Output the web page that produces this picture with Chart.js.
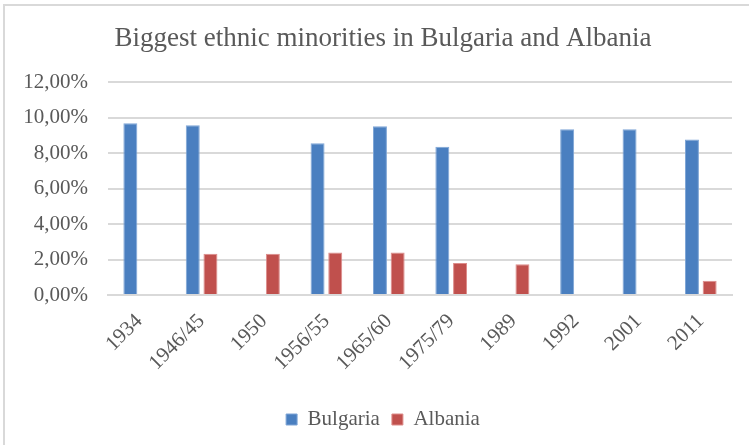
<!DOCTYPE html>
<html>
<head>
<meta charset="utf-8">
<script src="https://cdn.jsdelivr.net/npm/chart.js@4"></script>
<style>
    body { margin: 0; background: #fff; }
    #wrap { position: relative; width: 749px; height: 445px; }
    #frame { position: absolute; left: 3px; top: 4px; width: 800px; height: 500px; border-top: 2px solid #d9d9d9; border-left: 2px solid #d9d9d9; pointer-events: none; }
</style>
</head>
<body>
<div id="wrap">
    <canvas id="chartContainerMinorities" width="749" height="445"></canvas>
    <div id="frame"></div>
</div>
<script>
const years = ['1934', '1946/45', '1950', '1956/55', '1965/60', '1975/79', '1989', '1992', '2001', '2011'];
const bulgaria = [9.7, 9.58, null, 8.56, 9.52, 8.37, null, 9.36, 9.36, 8.77];
const albania = [null, 2.33, 2.33, 2.4, 2.4, 1.8, 1.73, null, null, 0.8];
const yTicks = [0, 2, 4, 6, 8, 10, 12];

const textColor = '#595959';
const gridColor = '#d9d9d9';
const fontFamily = "'Liberation Serif', serif";

// title and legend sit a bit right of the canvas centre in the original
const shiftHeaderFooter = {
    id: 'shiftHeaderFooter',
    afterLayout: function (chart) {
        [chart.titleBlock, chart.legend].forEach(box => {
            box.left += 12;
            box.right += 12;
        });
    }
};

function initDiagram() {
    let chartMinorities = document.getElementById('chartContainerMinorities');
    let minoritiesChart = new Chart(chartMinorities, {
        type: 'bar',
        data: {
            labels: years,
            datasets: [
                {
                    label: 'Bulgaria',
                    data: bulgaria,
                    backgroundColor: '#4a7fc0',
                    borderColor: '#7ea5d6',
                    borderWidth: 1
                },
                {
                    label: 'Albania',
                    data: albania,
                    backgroundColor: '#c0504d',
                    borderColor: '#dd8c8a',
                    borderWidth: 1
                }
            ]
        },
        plugins: [shiftHeaderFooter],
        options: {
            responsive: false,
            animation: false,
            categoryPercentage: 0.567,
            barPercentage: 0.79,
            layout: {
                padding: { left: 10, right: 17, top: 10, bottom: 5 }
            },
            plugins: {
                title: {
                    display: true,
                    text: 'Biggest ethnic minorities in Bulgaria and Albania',
                    color: textColor,
                    font: { family: fontFamily, size: 27, weight: 'normal' },
                    padding: { top: 13, bottom: 27 }
                },
                legend: {
                    position: 'bottom',
                    labels: {
                        color: textColor,
                        font: { family: fontFamily, size: 21 },
                        boxWidth: 11,
                        boxHeight: 11,
                        padding: 12
                    }
                },
                tooltip: { enabled: false }
            },
            scales: {
                x: {
                    grid: { display: false },
                    border: { display: true, color: gridColor, width: 2 },
                    afterFit: function (scale) { scale.height = 102; },
                    ticks: {
                        color: textColor,
                        font: { family: fontFamily, size: 21 },
                        minRotation: 45,
                        maxRotation: 45,
                        padding: 6
                    }
                },
                y: {
                    min: yTicks[0],
                    max: yTicks[yTicks.length - 1],
                    border: { display: false },
                    grid: { color: gridColor, lineWidth: 2, drawTicks: false },
                    afterFit: function (scale) { scale.width = 98; },
                    afterBuildTicks: function (scale) {
                        scale.ticks = yTicks.map(v => ({ value: v }));
                    },
                    ticks: {
                        color: textColor,
                        font: { family: fontFamily, size: 21 },
                        padding: 20,
                        callback: function (value) {
                            return value.toFixed(2).replace('.', ',') + '%';
                        }
                    }
                }
            }
        }
    });
}

window.addEventListener('load', initDiagram);
</script>
</body>
</html>
